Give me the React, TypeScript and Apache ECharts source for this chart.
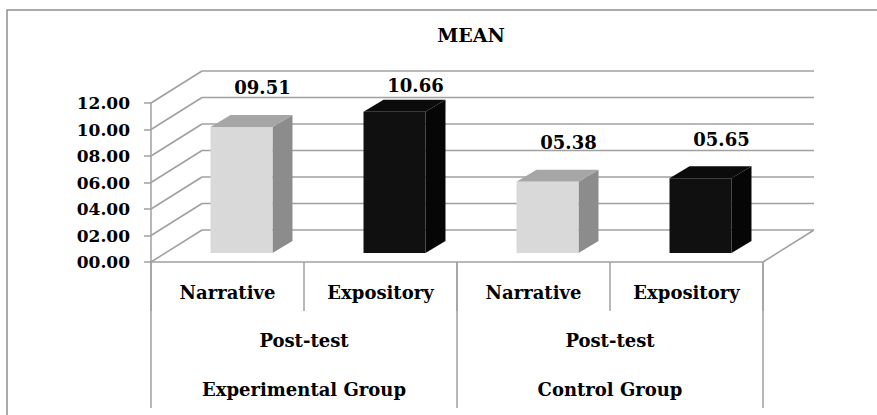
import React, { useEffect, useRef } from "react";
import * as echarts from "echarts";

const categories = ["Narrative", "Expository", "Narrative", "Expository"];
const testLabels = ["Post-test", "Post-test"];
const groups = ["Experimental Group", "Control Group"];
const means = [9.51, 10.66, 5.38, 5.65];
const yTickValues = [0, 2, 4, 6, 8, 10, 12];

const FONT = "'DejaVu Serif', 'Liberation Serif', serif";
const GRID_COLOR = "#a0a0a0";
const DEPTH_X = 51;
const DEPTH_Y = -32;
const BAR_SHIFT_X = 14;
const BAR_SHIFT_Y = -9;
const BAR_DX = 20;
const BAR_DY = -12;
const palette = [
  { front: "#d9d9d9", top: "#a6a6a6", side: "#8c8c8c" },
  { front: "#101010", top: "#0b0b0b", side: "#060606" },
];

const fmt = (v: number) => v.toFixed(2).padStart(5, "0");

export default function App() {
  const ref = useRef<HTMLDivElement>(null);
  useEffect(() => {
    if (!ref.current) return;
    const chart = echarts.init(ref.current, null, { renderer: "svg" });
    const lineStyle = { stroke: GRID_COLOR, lineWidth: 1.5 };
    const option: any = {
      animation: false,
      backgroundColor: "#ffffff",
      title: {
        text: "MEAN",
        left: 466,
        top: 20,
        textAlign: "center",
        textStyle: { fontFamily: FONT, fontWeight: "bold", fontSize: 19, color: "#000" },
      },
      graphic: [
        {
          type: "rect",
          shape: { x: 7, y: 10, width: 900, height: 500 },
          style: { fill: "none", stroke: "#8f8f8f", lineWidth: 1.5 },
          silent: true,
        },
      ],
      grid: { left: 151, top: 103, width: 612, height: 159 },
      yAxis: {
        type: "value",
        min: 0,
        max: 12,
        interval: 2,
        axisLine: { show: true, lineStyle: { color: GRID_COLOR, width: 1.5 } },
        axisTick: { show: true, length: 7, lineStyle: { color: GRID_COLOR, width: 1.5 } },
        splitLine: { show: false },
        axisLabel: {
          margin: 21,
          formatter: (v: number) => fmt(v),
          fontFamily: FONT,
          fontWeight: "bold",
          fontSize: 17,
          color: "#000",
        },
      },
      xAxis: [
        {
          type: "category",
          data: categories,
          position: "bottom",
          axisLine: { show: true, lineStyle: { color: GRID_COLOR, width: 1.5 } },
          axisTick: { show: true, length: 49, lineStyle: { color: GRID_COLOR, width: 1.5 } },
          axisLabel: {
            margin: 21,
            fontFamily: FONT,
            fontWeight: "bold",
            fontSize: 18,
            color: "#000",
            interval: 0,
          },
        },
        {
          type: "category",
          data: testLabels,
          position: "bottom",
          axisLine: { show: false },
          axisTick: { show: false },
          axisLabel: {
            margin: 69,
            fontFamily: FONT,
            fontWeight: "bold",
            fontSize: 18,
            color: "#000",
            interval: 0,
          },
        },
        {
          type: "category",
          data: groups,
          position: "bottom",
          axisLine: { show: false },
          axisTick: { show: true, length: 146, lineStyle: { color: GRID_COLOR, width: 1.5 } },
          axisLabel: {
            margin: 118,
            fontFamily: FONT,
            fontWeight: "bold",
            fontSize: 18,
            color: "#000",
            interval: 0,
          },
        },
      ],
      series: [
        {
          type: "custom",
          name: "walls",
          xAxisIndex: 0,
          yAxisIndex: 0,
          clip: false,
          silent: true,
          z: 1,
          data: yTickValues.map((v) => [0, v]),
          renderItem: (params: any, api: any) => {
            const cs = params.coordSys;
            const v = api.value(1);
            const y = api.coord([0, v])[1];
            const left = cs.x;
            const right = cs.x + cs.width;
            const children: any[] = [
              {
                type: "line",
                shape: { x1: left, y1: y, x2: left + DEPTH_X, y2: y + DEPTH_Y },
                style: lineStyle,
              },
              {
                type: "line",
                shape: { x1: left + DEPTH_X, y1: y + DEPTH_Y, x2: right + DEPTH_X, y2: y + DEPTH_Y },
                style: lineStyle,
              },
            ];
            if (v === 0) {
              children.push({
                type: "line",
                shape: { x1: right, y1: y, x2: right + DEPTH_X, y2: y + DEPTH_Y },
                style: lineStyle,
              });
            }
            return { type: "group", children };
          },
        },
        {
          type: "custom",
          name: "MEAN",
          xAxisIndex: 0,
          yAxisIndex: 0,
          clip: false,
          z: 5,
          data: means.map((m, i) => [i, m]),
          renderItem: (params: any, api: any) => {
            const cs = params.coordSys;
            const i = api.value(0);
            const v = api.value(1);
            const c = api.coord([i, v]);
            const b = api.coord([i, 0]);
            const bw = api.size([1, 0])[0] * 0.405;
            const cx = c[0] + BAR_SHIFT_X;
            const x0 = cx - bw / 2;
            const x1 = cx + bw / 2;
            const yTop = c[1] + BAR_SHIFT_Y;
            const yBot = b[1] + BAR_SHIFT_Y;
            const col = palette[i % 2];
            const labelY = Math.max(yTop - 39, cs.y - 18);
            return {
              type: "group",
              children: [
                {
                  type: "polygon",
                  shape: {
                    points: [
                      [x1, yTop],
                      [x1 + BAR_DX, yTop + BAR_DY],
                      [x1 + BAR_DX, yBot + BAR_DY],
                      [x1, yBot],
                    ],
                  },
                  style: { fill: col.side },
                },
                {
                  type: "polygon",
                  shape: {
                    points: [
                      [x0, yTop],
                      [x0 + BAR_DX, yTop + BAR_DY],
                      [x1 + BAR_DX, yTop + BAR_DY],
                      [x1, yTop],
                    ],
                  },
                  style: { fill: col.top },
                },
                {
                  type: "rect",
                  shape: { x: x0, y: yTop, width: bw, height: yBot - yTop },
                  style: { fill: col.front },
                },
                {
                  type: "text",
                  x: cx + 21,
                  y: labelY,
                  style: {
                    text: fmt(v),
                    fontFamily: FONT,
                    fontWeight: "bold",
                    fontSize: 18,
                    fill: "#000",
                    align: "center",
                    verticalAlign: "middle",
                  },
                },
              ],
            };
          },
        },
      ],
    };
    chart.setOption(option);
    return () => chart.dispose();
  }, []);
  return (
    <div
      ref={ref}
      style={{ position: "fixed", left: 0, top: 0, width: 877, height: 415 }}
    />
  );
}
